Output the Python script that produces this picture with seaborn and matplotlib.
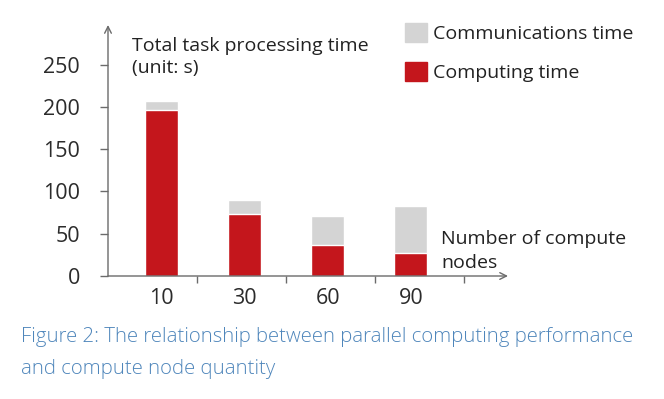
import pandas as pd
import seaborn as sns
import matplotlib.pyplot as plt
from matplotlib.patches import Patch

nodes = ['10', '30', '60', '90']
computing_time = [197, 73, 37, 27]
communications_time = [10, 17, 34, 56]

df = pd.DataFrame({'nodes': nodes, 'computing': computing_time, 'comm': communications_time})
df['total'] = df['computing'] + df['comm']

sns.set_style('white')
plt.rcParams['font.family'] = ['Open Sans', 'DejaVu Sans']

red = '#c4161c'
grey = '#d4d4d4'
axis_col = '#6b6b6b'

fig = plt.figure(figsize=(6.64, 3.99), dpi=100)
ax = fig.add_axes([108 / 664, 1 - 276 / 399, 400 / 664, 251 / 399])

sns.barplot(data=df, x='nodes', y='total', color=grey, width=0.4, saturation=1, ax=ax)
sns.barplot(data=df, x='nodes', y='computing', color=red, width=0.4, saturation=1, ax=ax)

ax.set_xlim(-0.645, 4.17)
ax.set_ylim(0, 297)
ax.set_yticks([0, 50, 100, 150, 200, 250])
ax.set_xlabel('')
ax.set_ylabel('')

for s in ax.spines.values():
    s.set_visible(False)
# axes drawn as arrows
ax.annotate('', xy=(1, 0), xytext=(0, 0), xycoords='axes fraction',
            arrowprops=dict(arrowstyle='->', color=axis_col, lw=1, shrinkA=0, shrinkB=0,
                            mutation_scale=12))
ax.annotate('', xy=(0, 1), xytext=(0, 0), xycoords='axes fraction',
            arrowprops=dict(arrowstyle='->', color=axis_col, lw=1, shrinkA=0, shrinkB=0,
                            mutation_scale=12))

ax.tick_params(axis='y', length=6, width=1, color=axis_col, pad=14, labelsize=15.5,
               labelcolor='#2b2b2b', left=True)
ax.tick_params(axis='x', which='major', length=0, pad=9, labelsize=15.5, labelcolor='#2b2b2b')
ax.set_xticks([-0.645 + 1.072 * k for k in range(1, 5)], minor=True)
ax.tick_params(axis='x', which='minor', length=5, width=1, color=axis_col, bottom=True)

fig.text(132 / 664, 1 - 57 / 399, 'Total task processing time\n(unit: s)', fontsize=14,
         color='#222222', va='center', ha='left', linespacing=1.35)
fig.text(441 / 664, 1 - 251 / 399, 'Number of compute\nnodes', fontsize=14,
         color='#222222', va='center', ha='left', linespacing=1.4)

handles = [Patch(color=grey, label='Communications time'),
           Patch(color=red, label='Computing time')]
fig.legend(handles=handles, loc='upper left', bbox_to_anchor=(405 / 664, 1 - 23 / 399),
           bbox_transform=fig.transFigure, frameon=False, fontsize=14, borderpad=0,
           handlelength=1.15, handleheight=1.15, handletextpad=0.3, labelspacing=0.95,
           labelcolor='#222222', borderaxespad=0)

fig.text(21 / 664, 1 - 337 / 399,
         'Figure 2: The relationship between parallel computing performance',
         fontsize=14.7, color='#4f86bb', fontweight='light', va='center', ha='left')
fig.text(21 / 664, 1 - 369 / 399, 'and compute node quantity',
         fontsize=14.7, color='#4f86bb', fontweight='light', va='center', ha='left')

fig.savefig('out.png', dpi=100)
